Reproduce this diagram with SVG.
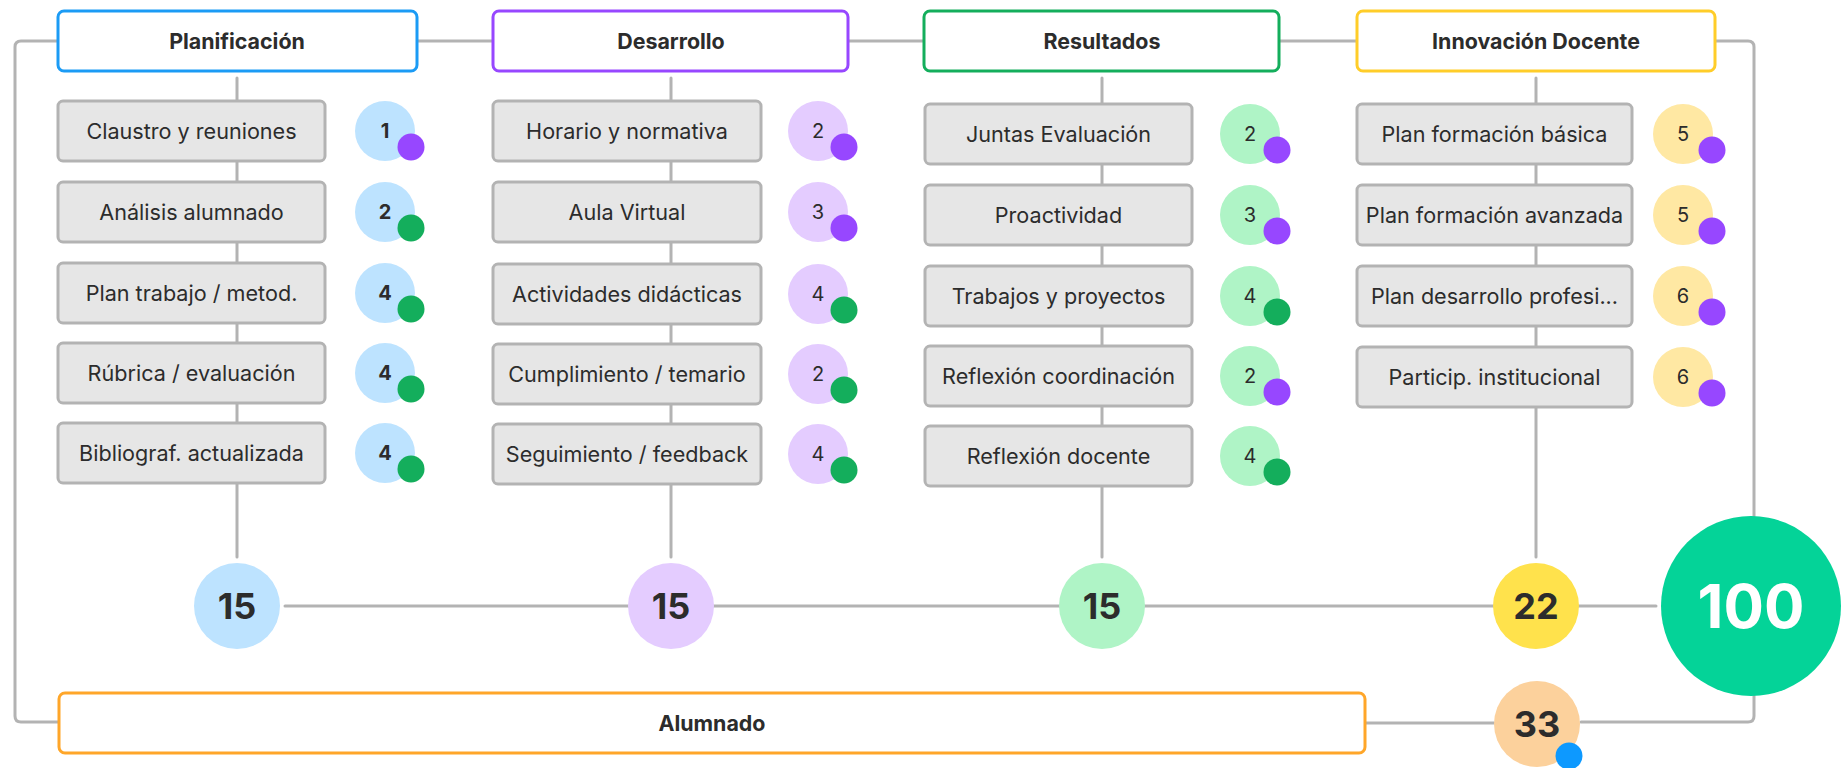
<svg xmlns="http://www.w3.org/2000/svg" width="1845" height="768" viewBox="0 0 1845 768">
<style>
text{font-family:Inter,"Noto Sans","Liberation Sans",sans-serif;fill:#2c2c2c;dominant-baseline:central;text-anchor:middle}
.hdr{fill:#fff;stroke-width:3}
.hd{font-size:21.4px;font-weight:700}
.box{fill:#e6e6e6;stroke:#b3b3b3;stroke-width:3}
.bt{font-size:21.6px}
.line{fill:none;stroke:#b3b3b3;stroke-width:3;stroke-linecap:round}
.bn{font-size:20px}
.bnb{font-size:20px;font-weight:700}
.big{font-size:36px;font-weight:700}
.pur{fill:#9747ff}.grn{fill:#14ae5c}
.cb{fill:#bde3ff}.cp{fill:#e4ccff}.cg{fill:#aff4c6}.cy{fill:#ffe8a3}
</style>
<g id="connectors">
<path class="line" d="M58 41H21Q15 41 15 47V716Q15 722 21 722H58"/>
<path class="line" d="M417 41H493M848 41H924M1279 41H1357"/>
<path class="line" d="M1715 41H1748Q1754 41 1754 47V716Q1754 722 1748 722H1581"/>
<path class="line" d="M237 78V557M671 78V557M1102 78V557M1536 78V557"/>
<path class="line" d="M285 606H1656"/>
<path class="line" d="M1365 723H1494"/>
</g>
<g id="planificacion">
<rect class="hdr" x="58" y="11" width="359" height="60" rx="6" stroke="#1b9bf5"/>
<text class="hd" x="237" y="41">Planificación</text>
</g>
<g id="desarrollo">
<rect class="hdr" x="493" y="11" width="355" height="60" rx="6" stroke="#9747ff"/>
<text class="hd" x="671" y="41">Desarrollo</text>
</g>
<g id="resultados">
<rect class="hdr" x="924" y="11" width="355" height="60" rx="6" stroke="#14ae5c"/>
<text class="hd" x="1102" y="41">Resultados</text>
</g>
<g id="innovacion">
<rect class="hdr" x="1357" y="11" width="358" height="60" rx="6" stroke="#ffcd29"/>
<text class="hd" x="1536" y="41">Innovación Docente</text>
</g>
<g id="alumnado">
<rect class="hdr" x="59" y="693" width="1306" height="60" rx="6" stroke="#ffa629"/>
<text class="hd" x="712" y="723">Alumnado</text>
</g>
<!-- Planificación children -->
<g id="p1"><rect class="box" x="58" y="101" width="267" height="60" rx="5"/><text class="bt" x="191.5" y="131">Claustro y reuniones</text></g>
<g id="p2"><rect class="box" x="58" y="182" width="267" height="60" rx="5"/><text class="bt" x="191.5" y="212">Análisis alumnado</text></g>
<g id="p3"><rect class="box" x="58" y="263" width="267" height="60" rx="5"/><text class="bt" x="191.5" y="293">Plan trabajo / metod.</text></g>
<g id="p4"><rect class="box" x="58" y="343" width="267" height="60" rx="5"/><text class="bt" x="191.5" y="373">Rúbrica / evaluación</text></g>
<g id="p5"><rect class="box" x="58" y="423" width="267" height="60" rx="5"/><text class="bt" x="191.5" y="453">Bibliograf. actualizada</text></g>
<g id="pb1"><circle class="cb" cx="385" cy="131" r="30"/><text class="bnb" x="385" y="131">1</text><circle class="pur" cx="411" cy="147" r="13.5"/></g>
<g id="pb2"><circle class="cb" cx="385" cy="212" r="30"/><text class="bnb" x="385" y="212">2</text><circle class="grn" cx="411" cy="228" r="13.5"/></g>
<g id="pb3"><circle class="cb" cx="385" cy="293" r="30"/><text class="bnb" x="385" y="293">4</text><circle class="grn" cx="411" cy="309" r="13.5"/></g>
<g id="pb4"><circle class="cb" cx="385" cy="373" r="30"/><text class="bnb" x="385" y="373">4</text><circle class="grn" cx="411" cy="389" r="13.5"/></g>
<g id="pb5"><circle class="cb" cx="385" cy="453" r="30"/><text class="bnb" x="385" y="453">4</text><circle class="grn" cx="411" cy="469" r="13.5"/></g>
<!-- Desarrollo children -->
<g id="d1"><rect class="box" x="493" y="101" width="268" height="60" rx="5"/><text class="bt" x="627" y="131">Horario y normativa</text></g>
<g id="d2"><rect class="box" x="493" y="182" width="268" height="60" rx="5"/><text class="bt" x="627" y="212">Aula Virtual</text></g>
<g id="d3"><rect class="box" x="493" y="264" width="268" height="60" rx="5"/><text class="bt" x="627" y="294">Actividades didácticas</text></g>
<g id="d4"><rect class="box" x="493" y="344" width="268" height="60" rx="5"/><text class="bt" x="627" y="374">Cumplimiento / temario</text></g>
<g id="d5"><rect class="box" x="493" y="424" width="268" height="60" rx="5"/><text class="bt" x="627" y="454">Seguimiento / feedback</text></g>
<g id="db1"><circle class="cp" cx="818" cy="131" r="30"/><text class="bn" x="818" y="131">2</text><circle class="pur" cx="844" cy="147" r="13.5"/></g>
<g id="db2"><circle class="cp" cx="818" cy="212" r="30"/><text class="bn" x="818" y="212">3</text><circle class="pur" cx="844" cy="228" r="13.5"/></g>
<g id="db3"><circle class="cp" cx="818" cy="294" r="30"/><text class="bn" x="818" y="294">4</text><circle class="grn" cx="844" cy="310" r="13.5"/></g>
<g id="db4"><circle class="cp" cx="818" cy="374" r="30"/><text class="bn" x="818" y="374">2</text><circle class="grn" cx="844" cy="390" r="13.5"/></g>
<g id="db5"><circle class="cp" cx="818" cy="454" r="30"/><text class="bn" x="818" y="454">4</text><circle class="grn" cx="844" cy="470" r="13.5"/></g>
<!-- Resultados children -->
<g id="r1"><rect class="box" x="925" y="104" width="267" height="60" rx="5"/><text class="bt" x="1058.5" y="134">Juntas Evaluación</text></g>
<g id="r2"><rect class="box" x="925" y="185" width="267" height="60" rx="5"/><text class="bt" x="1058.5" y="215">Proactividad</text></g>
<g id="r3"><rect class="box" x="925" y="266" width="267" height="60" rx="5"/><text class="bt" x="1058.5" y="296">Trabajos y proyectos</text></g>
<g id="r4"><rect class="box" x="925" y="346" width="267" height="60" rx="5"/><text class="bt" x="1058.5" y="376">Reflexión coordinación</text></g>
<g id="r5"><rect class="box" x="925" y="426" width="267" height="60" rx="5"/><text class="bt" x="1058.5" y="456">Reflexión docente</text></g>
<g id="rb1"><circle class="cg" cx="1250" cy="134" r="30"/><text class="bn" x="1250" y="134">2</text><circle class="pur" cx="1277" cy="150" r="13.5"/></g>
<g id="rb2"><circle class="cg" cx="1250" cy="215" r="30"/><text class="bn" x="1250" y="215">3</text><circle class="pur" cx="1277" cy="231" r="13.5"/></g>
<g id="rb3"><circle class="cg" cx="1250" cy="296" r="30"/><text class="bn" x="1250" y="296">4</text><circle class="grn" cx="1277" cy="312" r="13.5"/></g>
<g id="rb4"><circle class="cg" cx="1250" cy="376" r="30"/><text class="bn" x="1250" y="376">2</text><circle class="pur" cx="1277" cy="392" r="13.5"/></g>
<g id="rb5"><circle class="cg" cx="1250" cy="456" r="30"/><text class="bn" x="1250" y="456">4</text><circle class="grn" cx="1277" cy="472" r="13.5"/></g>
<!-- Innovación children -->
<g id="i1"><rect class="box" x="1357" y="104" width="275" height="60" rx="5"/><text class="bt" x="1494.5" y="134">Plan formación básica</text></g>
<g id="i2"><rect class="box" x="1357" y="185" width="275" height="60" rx="5"/><text class="bt" x="1494.5" y="215">Plan formación avanzada</text></g>
<g id="i3"><rect class="box" x="1357" y="266" width="275" height="60" rx="5"/><text class="bt" x="1494.5" y="296">Plan desarrollo profesi...</text></g>
<g id="i4"><rect class="box" x="1357" y="347" width="275" height="60" rx="5"/><text class="bt" x="1494.5" y="377">Particip. institucional</text></g>
<g id="ib1"><circle class="cy" cx="1683" cy="134" r="30"/><text class="bn" x="1683" y="134">5</text><circle class="pur" cx="1712" cy="150" r="13.5"/></g>
<g id="ib2"><circle class="cy" cx="1683" cy="215" r="30"/><text class="bn" x="1683" y="215">5</text><circle class="pur" cx="1712" cy="231" r="13.5"/></g>
<g id="ib3"><circle class="cy" cx="1683" cy="296" r="30"/><text class="bn" x="1683" y="296">6</text><circle class="pur" cx="1712" cy="312" r="13.5"/></g>
<g id="ib4"><circle class="cy" cx="1683" cy="377" r="30"/><text class="bn" x="1683" y="377">6</text><circle class="pur" cx="1712" cy="393" r="13.5"/></g>
<!-- Totals -->
<g id="t-plan"><circle cx="237" cy="606" r="43" fill="#bde3ff"/><text class="big" x="237" y="606">15</text></g>
<g id="t-des"><circle cx="671" cy="606" r="43" fill="#e4ccff"/><text class="big" x="671" y="606">15</text></g>
<g id="t-res"><circle cx="1102" cy="606" r="43" fill="#aff4c6"/><text class="big" x="1102" y="606">15</text></g>
<g id="t-inn"><circle cx="1536" cy="606" r="43" fill="#ffe24c"/><text class="big" x="1536" y="606">22</text></g>
<g id="t-alu"><circle cx="1537" cy="724" r="43" fill="#fcd19c"/><text class="big" x="1537" y="724">33</text><circle cx="1569" cy="756" r="13.5" fill="#0d99ff"/></g>
<g id="total"><circle cx="1751" cy="606" r="90" fill="#04d398"/><text x="1751" y="606" style="font-size:60px;font-weight:700;fill:#fff">100</text></g>
</svg>
